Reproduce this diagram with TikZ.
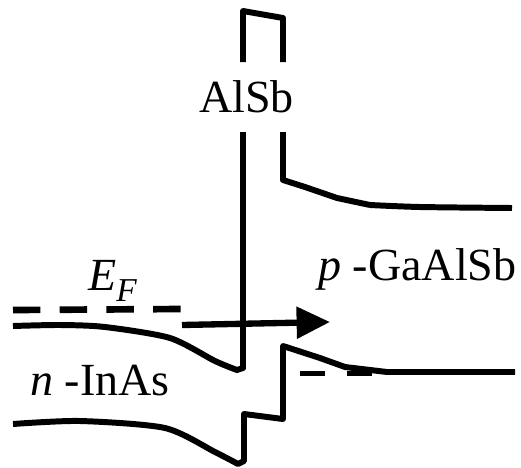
\documentclass[tikz,border=0pt]{standalone}
\usepackage{fontspec}
\setmainfont{Liberation Serif}
\usetikzlibrary{arrows.meta, positioning}

\begin{document}
\begin{tikzpicture}[
                x=0.02cm, y=-0.02cm,
                label/.style={inner sep=0pt, anchor=base west, font=\fontsize{26.2}{30}\selectfont},
                band/.style={line width=3.4pt, line join=round},
                fermi/.style={line width=3.8pt, dash pattern=on 15.6pt off 11pt},
                fermiright/.style={line width=2.8pt, dash pattern=on 14.5pt off 12pt},
                arrow/.style={line width=3.6pt, -{Triangle[length=19pt, width=17.5pt]}}
            ]
                \useasboundingbox (0,0) rectangle (521,467);

                % Nodes
                \node (alsb) [label] at (199,112) {AlSb};
                \node (fermilabel) [label] at (88,290) {\textit{E}\raisebox{-0.24em}{\fontsize{19}{20}\selectfont\textit{F}}};
                \node (inas) [label] at (30,395) {\textit{n} -InAs};
                \node (gaalsb) [label] at (318,280) {\textit{p} -GaAlSb};

                % Conduction band
                \draw [band] plot [smooth, tension=0.45] coordinates {(13,326) (60,325) (105,327) (170,338) (215,361) (237,370)} -- (243,368) -- (243,132);
                \draw [band] (243,62) -- (243,11) -- (283,18) -- (283,62);
                \draw [band] (283,132) -- (283,180) -- (305,187) -- (337,198) -- (370,205) plot [smooth, tension=0.45] coordinates {(370,205) (420,207) (512,208)};

                % Valence band
                \draw [band] plot [smooth, tension=0.45] coordinates {(13,424) (80,421) (165,428) (215,452) (238,464)} -- (244,461) -- (244,414) -- (283,419) -- (283,346) -- (320,358) -- (345,367) -- (387,372) -- (515,372);

                % Fermi levels
                \coordinate (fermileft) at (13,310);
                \coordinate (fermileftend) at (183,309);
                \coordinate (fermistart) at (300,373.5);
                \coordinate (fermiend) at (373,373.5);
                \draw [fermi] (fermileft) -- (fermileftend);
                \draw [fermiright] (fermistart) -- (fermiend);

                % Arrows
                \coordinate (tunnelstart) at (182,325);
                \coordinate (tunnelend) at (330,322);
                \draw [arrow] (tunnelstart) -- (tunnelend);
            \end{tikzpicture}
\end{document}
